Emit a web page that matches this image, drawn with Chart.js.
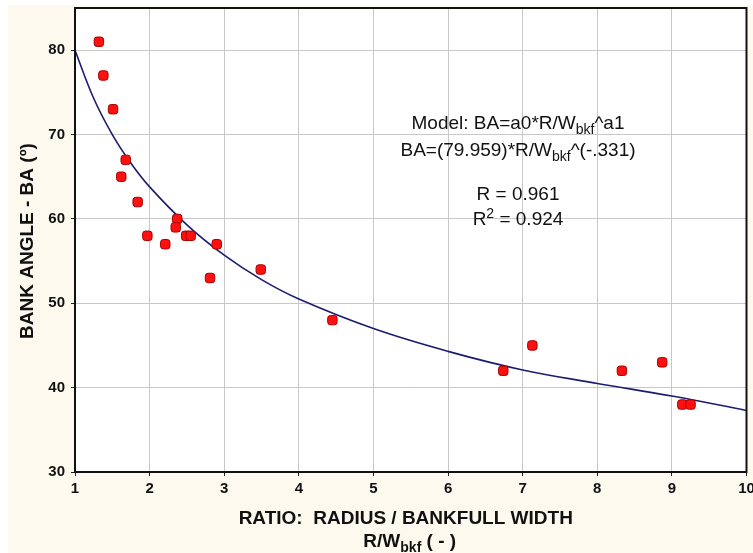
<!DOCTYPE html>
<html>
<head>
<meta charset="utf-8">
<script src="https://cdn.jsdelivr.net/npm/chart.js@4/dist/chart.umd.min.js"></script>
<style>
  html, body { margin: 0; padding: 0; background: #ffffff; }
  #wrap { width: 753px; height: 553px; }
</style>
</head>
<body>
<div id="wrap"><canvas id="fitChart" width="753" height="553"></canvas></div>
<script>
// observed points (R/Wbkf, bank angle)
const ratioX = [1.32, 1.38, 1.51, 1.68, 1.62, 1.84, 1.97, 2.21, 2.37, 2.35, 2.49, 2.55, 2.90, 2.81, 3.49, 4.45, 6.74, 7.13, 8.33, 8.87, 9.14, 9.25];
const angleY = [81, 77, 73, 67, 65, 62, 58, 57, 60, 59, 58, 58, 57, 53, 54, 48, 42, 45, 42, 43, 38, 38];

// fitted curve
const curveX = [1, 1.25, 1.5, 1.75, 2, 2.5, 3, 3.5, 4, 5, 6, 7, 8, 9, 10];
const curveY = [80, 74.3, 70.0, 66.6, 63.8, 59.3, 55.7, 52.8, 50.5, 47.0, 44.3, 42.1, 40.5, 39.0, 37.3];

const xTicks = [1, 2, 3, 4, 5, 6, 7, 8, 9, 10];
const yTicks = [30, 40, 50, 60, 70, 80];

const FONT = '"Liberation Sans", Arial, sans-serif';

// draws a line of text made of [text, isSub, isSup] runs, centred on cx
function drawRuns(ctx, runs, cx, y, size, weight) {
  const big = weight + ' ' + size + 'px ' + FONT;
  const small = weight + ' ' + Math.round(size * 0.72) + 'px ' + FONT;
  let total = 0;
  runs.forEach(r => { ctx.font = (r[1] || r[2]) ? small : big; total += ctx.measureText(r[0]).width; });
  let x = cx - total / 2;
  ctx.textAlign = 'left';
  ctx.textBaseline = 'alphabetic';
  runs.forEach(r => {
    ctx.font = (r[1] || r[2]) ? small : big;
    let dy = 0;
    if (r[1]) dy = size * 0.28;
    if (r[2]) dy = -size * 0.38;
    ctx.fillText(r[0], x, y + dy);
    x += ctx.measureText(r[0]).width;
  });
}

const decorPlugin = {
  id: 'decor',
  beforeDraw(chart) {
    const { ctx, chartArea: a } = chart;
    ctx.save();
    ctx.fillStyle = '#ffffff';
    ctx.fillRect(0, 0, chart.width, chart.height);
    ctx.fillStyle = '#fdf9ee';
    ctx.fillRect(8, 5, chart.width - 8, chart.height - 5);
    ctx.fillStyle = '#ffffff';
    ctx.fillRect(a.left, a.top, a.right - a.left, a.bottom - a.top);
    ctx.restore();
  },
  afterDraw(chart) {
    const { ctx, chartArea: a } = chart;
    ctx.save();
    ctx.strokeStyle = '#111111';
    ctx.lineWidth = 2;
    ctx.strokeRect(a.left, a.top, a.right - a.left, a.bottom - a.top);

    ctx.fillStyle = '#111111';
    // model annotation
    drawRuns(ctx, [['Model: BA=a0*R/W'], ['bkf', true], ['^a1']], 518, 129, 19, 'normal');
    drawRuns(ctx, [['BA=(79.959)*R/W'], ['bkf', true], ['^(-.331)']], 518, 156, 19, 'normal');
    drawRuns(ctx, [['R = 0.961']], 518, 200, 19, 'normal');
    drawRuns(ctx, [['R'], ['2', false, true], [' = 0.924']], 518, 225, 19, 'normal');

    // x axis title
    const cx = (a.left + a.right) / 2;
    drawRuns(ctx, [['RATIO:  RADIUS / BANKFULL WIDTH']], cx - 5, 524, 19, 'bold');
    drawRuns(ctx, [['R/W'], ['bkf', true], [' ( - )']], cx - 1, 547, 19, 'bold');

    // y axis title
    ctx.translate(28, 241);
    ctx.rotate(-Math.PI / 2);
    ctx.font = 'bold 19px ' + FONT;
    ctx.textAlign = 'center';
    ctx.textBaseline = 'middle';
    ctx.fillText('BANK ANGLE - BA (º)', 0, 0);
    ctx.restore();
  }
};

new Chart(document.getElementById('fitChart').getContext('2d'), {
  type: 'scatter',
  data: {
    datasets: [
      {
        type: 'line',
        label: 'fit',
        data: curveX.map((x, i) => ({ x: x, y: curveY[i] })),
        borderColor: '#1c1c72',
        borderWidth: 1.6,
        pointRadius: 0,
        tension: 0.4,
        fill: false,
        order: 2
      },
      {
        label: 'BA',
        data: ratioX.map((x, i) => ({ x: x, y: angleY[i] })),
        pointStyle: 'rectRounded',
        pointRadius: 5.5,
        backgroundColor: '#ff1010',
        borderColor: '#a80000',
        borderWidth: 1,
        order: 1
      }
    ]
  },
  options: {
    responsive: false,
    animation: false,
    layout: { padding: { left: 0, top: 8, right: 4, bottom: 0 } },
    plugins: { legend: { display: false }, tooltip: { enabled: false } },
    scales: {
      x: {
        type: 'linear',
        min: 1,
        max: 10,
        afterBuildTicks: s => { s.ticks = xTicks.map(v => ({ value: v })); },
        afterFit: s => { s.height = 81; s.paddingLeft = 0; s.paddingRight = 0; },
        grid: { color: '#c8c8c8', lineWidth: 1, tickColor: '#222', tickLength: 4 },
        border: { display: false },
        ticks: { color: '#111', font: { family: FONT, size: 15, weight: 'bold' }, padding: 4, maxRotation: 0 }
      },
      y: {
        min: 30,
        max: 85,
        afterBuildTicks: s => { s.ticks = yTicks.map(v => ({ value: v })); },
        afterFit: s => { s.width = 75; s.paddingTop = 0; s.paddingBottom = 0; },
        grid: { color: '#c8c8c8', lineWidth: 1, tickColor: '#222', tickLength: 4 },
        border: { display: false },
        ticks: { color: '#111', font: { family: FONT, size: 15, weight: 'bold' }, padding: 6 }
      }
    }
  },
  plugins: [decorPlugin]
});
</script>
</body>
</html>
